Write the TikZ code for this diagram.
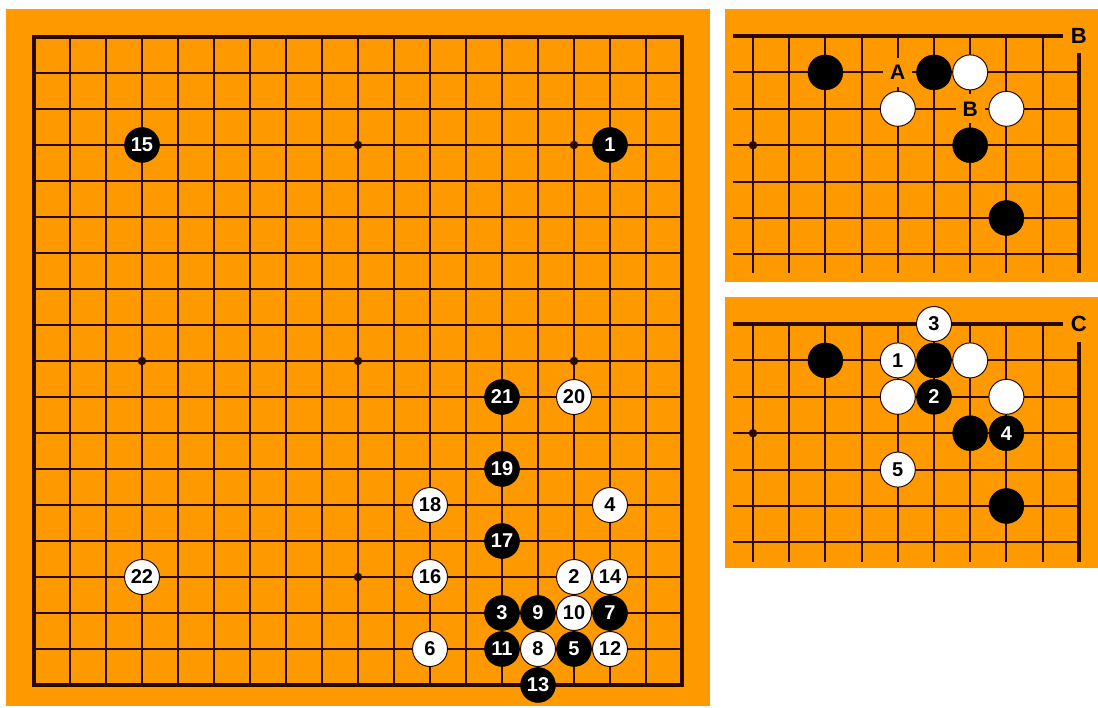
\documentclass[tikz,border=0pt]{standalone}
\usepackage{fontspec}
\setsansfont{Liberation Sans}
\usetikzlibrary{positioning}
\definecolor{goboard}{HTML}{FF9900}
\definecolor{goline}{HTML}{2A0A00}
\tikzset{
  font=\sffamily,
  boardbg/.style={fill=goboard,draw=none},
  gridline/.style={draw=goline,line width=2.1pt},
  edgeline/.style={draw=goline,line width=3.6pt},
  starpt/.style={circle,fill=goline,inner sep=0pt,minimum size=8.5pt},
  stone/.style={circle,inner sep=0pt,minimum size=35pt,
                font=\sffamily\bfseries\fontsize{20}{20}\selectfont},
  blackstone/.style={stone,fill=black,draw=black,line width=0.4pt,text=white},
  whitestone/.style={stone,fill=white,draw=goline,line width=1pt,text=black},
  marklbl/.style={fill=goboard,inner sep=0pt,minimum size=29pt,
                  font=\sffamily\bfseries\fontsize{21}{21}\selectfont},
  cornertag/.style={inner sep=0pt,
                    font=\sffamily\bfseries\fontsize{22}{22}\selectfont},
}

\begin{document}
\begin{tikzpicture}[x=1pt,y=-1pt]
  \useasboundingbox[fill=white] (0,0) rectangle (1098,708);

  % ---- board backgrounds ----
  \fill[boardbg] (6,9) rectangle (710,706);
  \fill[boardbg] (725,9) rectangle (1098,282);
  \fill[boardbg] (725,297) rectangle (1098,568);

  % ---- main game record ----
  \begin{scope}[xshift=34pt,yshift=-37pt,x=36pt,y=-36pt]
    \foreach \i in {1,...,17} {
      \draw[gridline] (\i,0) -- (\i,18);
      \draw[gridline] (0,\i) -- (18,\i);
    }
    \draw[edgeline] (0,0) rectangle (18,18);
    \foreach \c in {3,9,15}
      \foreach \r in {3,9,15}
        \node[starpt] (hoshi-\c-\r) at (\c,\r) {};

    \node[blackstone] (m1) at (16,3) {1};
    \node[whitestone] (m2) at (15,15) {2};
    \node[blackstone] (m3) at (13,16) {3};
    \node[whitestone] (m4) at (16,13) {4};
    \node[blackstone] (m5) at (15,17) {5};
    \node[whitestone] (m6) at (11,17) {6};
    \node[blackstone] (m7) at (16,16) {7};
    \node[whitestone] (m8) at (14,17) {8};
    \node[blackstone] (m9) at (14,16) {9};
    \node[whitestone] (m10) at (15,16) {10};
    \node[blackstone] (m11) at (13,17) {11};
    \node[whitestone] (m12) at (16,17) {12};
    \node[blackstone] (m13) at (14,18) {13};
    \node[whitestone] (m14) at (16,15) {14};
    \node[blackstone] (m15) at (3,3) {15};
    \node[whitestone] (m16) at (11,15) {16};
    \node[blackstone] (m17) at (13,14) {17};
    \node[whitestone] (m18) at (11,13) {18};
    \node[blackstone] (m19) at (13,12) {19};
    \node[whitestone] (m20) at (15,10) {20};
    \node[blackstone] (m21) at (13,10) {21};
    \node[whitestone] (m22) at (3,15) {22};
  \end{scope}

  % ---- diagram B ----
  \begin{scope}[xshift=753pt,yshift=-36pt,x=36.2pt,y=-36.4pt]
    \foreach \c in {0,...,8}
      \draw[gridline] (\c,0) -- (\c,6.5);
    \foreach \r in {1,...,6}
      \draw[gridline] (-0.55,\r) -- (9,\r);
    \draw[edgeline] (-0.55,0) -- (8.55,0);
    \draw[edgeline] (9,0.47) -- (9,6.5);
    \node[starpt] (bstar) at (0,3) {};
    \node[cornertag] (btag) at (9,0) {B};

    \node[blackstone] (b1) at (2,1) {};
    \node[marklbl] (bA) at (4,1) {A};
    \node[blackstone] (b2) at (5,1) {};
    \node[whitestone] (b3) at (6,1) {};
    \node[whitestone] (b4) at (4,2) {};
    \node[marklbl] (bB) at (6,2) {B};
    \node[whitestone] (b5) at (7,2) {};
    \node[blackstone] (b6) at (6,3) {};
    \node[blackstone] (b7) at (7,5) {};
  \end{scope}

  % ---- diagram C ----
  \begin{scope}[xshift=753pt,yshift=-324pt,x=36.2pt,y=-36.4pt]
    \foreach \c in {0,...,8}
      \draw[gridline] (\c,0) -- (\c,6.55);
    \foreach \r in {1,...,6}
      \draw[gridline] (-0.55,\r) -- (9,\r);
    \draw[edgeline] (-0.55,0) -- (8.55,0);
    \draw[edgeline] (9,0.5) -- (9,6.55);
    \node[starpt] (cstar) at (0,3) {};
    \node[cornertag] (ctag) at (9,0) {C};

    \node[whitestone] (c3) at (5,0) {3};
    \node[blackstone] (cb1) at (2,1) {};
    \node[whitestone] (c1) at (4,1) {1};
    \node[blackstone] (cb2) at (5,1) {};
    \node[whitestone] (cw1) at (6,1) {};
    \node[whitestone] (cw2) at (4,2) {};
    \node[blackstone] (c2) at (5,2) {2};
    \node[whitestone] (cw3) at (7,2) {};
    \node[blackstone] (cb3) at (6,3) {};
    \node[blackstone] (c4) at (7,3) {4};
    \node[whitestone] (c5) at (4,4) {5};
    \node[blackstone] (cb4) at (7,5) {};
  \end{scope}
\end{tikzpicture}
\end{document}
